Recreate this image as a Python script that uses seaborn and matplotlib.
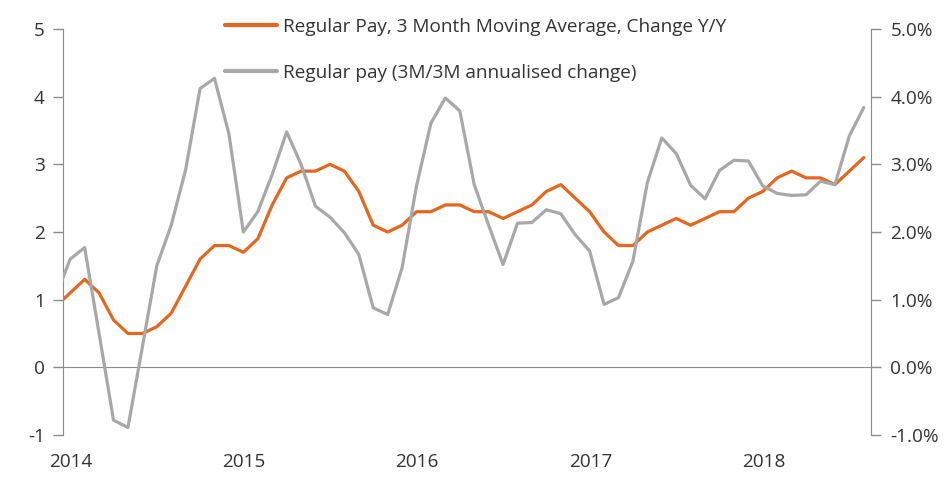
import matplotlib.pyplot as plt
import seaborn as sns
import numpy as np
import pandas as pd

# monthly data, Dec 2013 .. Aug 2018 (first point sits just left of the axis)
months = pd.period_range("2013-12", "2018-08", freq="M")

yoy_3m_avg = [
    0.9,
    1.1, 1.3, 1.1, 0.7, 0.5, 0.5, 0.6, 0.8, 1.2, 1.6, 1.8, 1.8,
    1.7, 1.9, 2.4, 2.8, 2.9, 2.9, 3.0, 2.9, 2.6, 2.1, 2.0, 2.1,
    2.3, 2.3, 2.4, 2.4, 2.3, 2.3, 2.2, 2.3, 2.4, 2.6, 2.7, 2.5,
    2.3, 2.0, 1.8, 1.8, 2.0, 2.1, 2.2, 2.1, 2.2, 2.3, 2.3, 2.5,
    2.6, 2.8, 2.9, 2.8, 2.8, 2.7, 2.9, 3.1,
]

ann_3m3m = [
    1.05,
    1.6, 1.77, 0.5, -0.78, -0.89, 0.3, 1.5, 2.1, 2.92, 4.12, 4.27, 3.45,
    2.0, 2.3, 2.85, 3.48, 3.0, 2.38, 2.22, 1.99, 1.67, 0.88, 0.78, 1.47,
    2.68, 3.61, 3.98, 3.79, 2.7, 2.1, 1.52, 2.13, 2.14, 2.33, 2.27, 1.96,
    1.72, 0.93, 1.03, 1.57, 2.73, 3.39, 3.16, 2.69, 2.49, 2.91, 3.06, 3.05,
    2.68, 2.57, 2.54, 2.55, 2.75, 2.7, 3.42, 3.84,
]

year_labels = ["2014", "2015", "2016", "2017", "2018"]

# x position in months from Jan 2014, points at mid-month
start = pd.Period("2014-01", freq="M")
xpos = np.array([(m - start).n for m in months]) + 0.5

df = pd.DataFrame({
    "x": np.concatenate([xpos, xpos]),
    "value": yoy_3m_avg + ann_3m3m,
    "series": (["Regular Pay, 3 Month Moving Average, Change Y/Y"] * len(xpos)
               + ["Regular pay (3M/3M annualised change)"] * len(xpos)),
})

sns.set_style("white")
plt.rcParams["font.family"] = ["Open Sans", "DejaVu Sans"]

orange = "#E5661C"
grey = "#A8A8A8"
axis_col = "#8C8C8C"
text_col = "#333333"
fs = 13.7

fig = plt.figure(figsize=(9.53, 4.92), dpi=100)
ax = fig.add_axes([63 / 953, 57 / 492, 808 / 953, 406 / 492])

sns.lineplot(
    data=df, x="x", y="value", hue="series",
    palette=[orange, grey], linewidth=2.3, ax=ax, legend=True,
)

ax.set_xlim(0, 56)
ax.set_ylim(-1, 5)
ax.set_xlabel("")
ax.set_ylabel("")

ax2 = ax.twinx()
ax2.set_ylim(-1, 5)

for a in (ax, ax2):
    for s in a.spines.values():
        s.set_visible(False)

ax.spines["left"].set_visible(True)
ax.spines["left"].set_color(axis_col)
ax.spines["bottom"].set_visible(True)
ax.spines["bottom"].set_color(axis_col)
ax.spines["bottom"].set_position(("data", 0))
ax2.spines["right"].set_visible(True)
ax2.spines["right"].set_color(axis_col)

ax.set_yticks(range(-1, 6))
ax.set_yticklabels([str(v) for v in range(-1, 6)])
ax2.set_yticks(range(-1, 6))
ax2.set_yticklabels([f"{v:.1f}%" for v in range(-1, 6)])

ax.set_xticks([0, 12, 24, 36, 48])
ax.set_xticklabels([])
ax.set_xticks([0.55 + 12 * i for i in range(5)], minor=True)
ax.set_xticklabels(year_labels, minor=True)

ax.tick_params(axis="x", which="major", direction="out", length=6,
               color=axis_col, width=1)
ax.tick_params(axis="x", which="minor", length=0, pad=62,
               labelsize=fs, labelcolor=text_col)
ax.tick_params(axis="y", direction="out", length=7, color=axis_col,
               width=1, labelsize=fs, labelcolor=text_col, pad=6, left=True)
ax2.tick_params(axis="y", direction="out", length=7, color=axis_col,
                width=1, labelsize=fs, labelcolor=text_col, pad=7, right=True)

# grey series drawn over the orange one
ax.get_lines()[1].set_zorder(3)
ax.get_lines()[0].set_zorder(2)

leg = ax.legend(
    loc="upper left", bbox_to_anchor=(207 / 953, 1.0), bbox_transform=fig.transFigure,
    frameon=False, fontsize=fs, handlelength=2.75, labelspacing=1.45,
    handletextpad=0.3, borderaxespad=0.55,
)
for t in leg.get_texts():
    t.set_color(text_col)
for h in leg.get_lines():
    h.set_linewidth(3)

fig.savefig("out.png", dpi=100)
